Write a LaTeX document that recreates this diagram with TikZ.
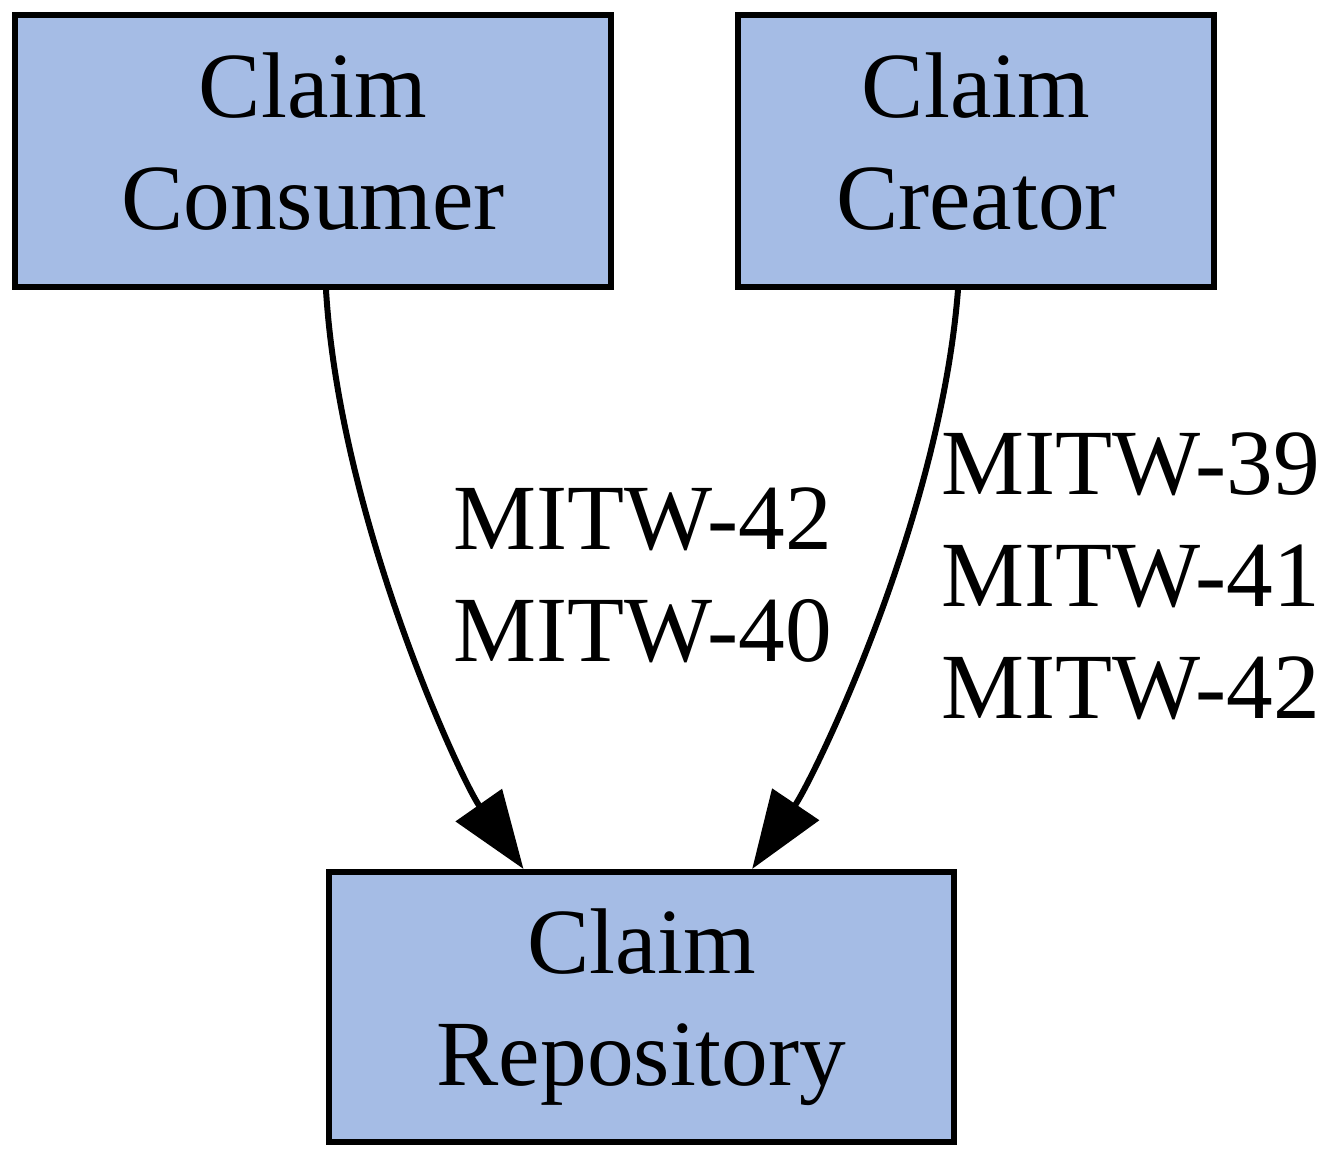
\documentclass[tikz,border=0pt]{standalone}
\usepackage{fontspec}
\setmainfont{Liberation Serif}
\usepackage{tikz}
\usetikzlibrary{arrows.meta}
\usetikzlibrary{calc}
\definecolor{claimblue}{RGB}{165,188,229}
\tikzset{>={Triangle[length=11.7pt,width=8.3pt]}}
\tikzstyle{line} = [draw, 
->, 
line width=0.9pt]
\newcommand{\boxtext}[2]{\strut #1\\\strut #2}

\begin{document}
\begin{tikzpicture}[x=0.15pt, y=-0.15pt,
		box/.style={draw, rectangle, fill=claimblue, line width=0.9pt,
			minimum height=40.8pt, inner sep=0pt, align=center,
			font=\fontsize{14}{16.8}\selectfont},
		edgelabel/.style={anchor=west, inner sep=0pt, align=left,
			font=\fontsize{14}{16.8}\selectfont}]
		\useasboundingbox (0,0) rectangle (1332,1164);
		%% Components
		\node [box, minimum width=89.4pt] at (313,151) (consumer) {\boxtext{Claim}{Consumer}};
		\node [box, minimum width=71.4pt] at (976,151) (creator) {\boxtext{Claim}{Creator}};
		\node [box, minimum width=93.75pt, minimum height=40.5pt] at (641.5,1007) (repo) {\boxtext{Claim}{Repository}};
		%% Interactions
		\path [line] ([xshift=1.95pt]consumer.south) .. controls +(14,230) and +(-63,-90) .. ([xshift=-17.7pt]repo.north);
		\path [line] ([xshift=-2.7pt]creator.south) .. controls +(-18,230) and +(62,-92) .. ([xshift=16.6pt]repo.north);
		\node [edgelabel] at (452,575) (consumerlabel) {MITW-42\\MITW-40};
		\node [edgelabel] at (940,576) (creatorlabel) {MITW-39\\MITW-41\\MITW-42};
	\end{tikzpicture}
\end{document}
